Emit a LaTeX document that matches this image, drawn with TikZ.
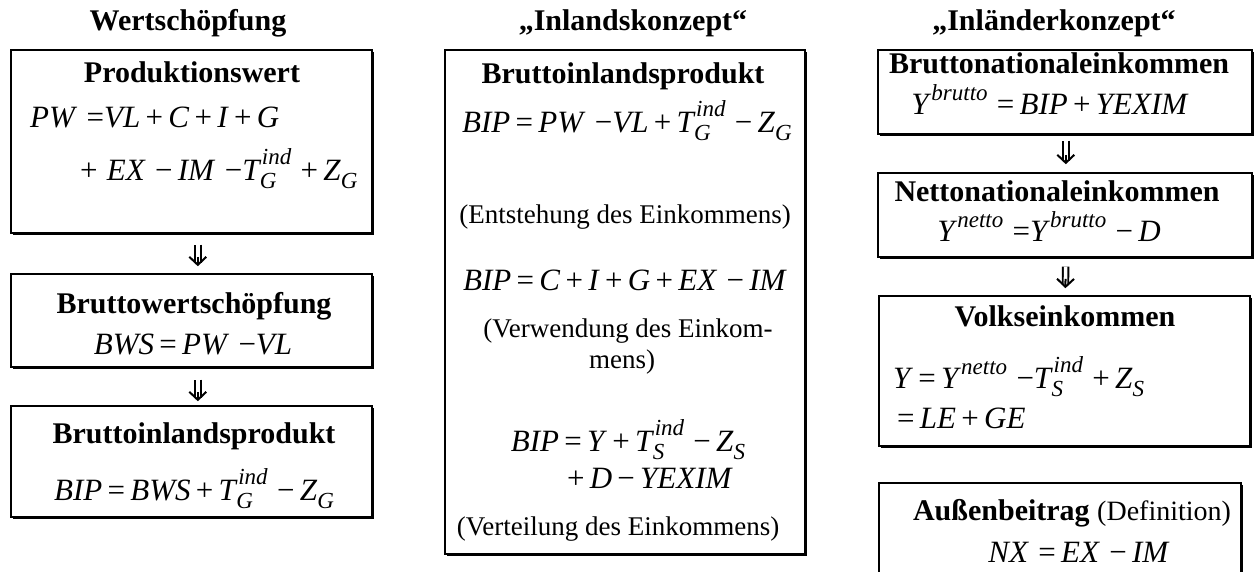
\documentclass[tikz,border=0pt]{standalone}
\usepackage{fontspec}
\setmainfont{Liberation Serif}
\usetikzlibrary{shadows,arrows.meta}
\newcommand\vv[1]{\textit{#1}}
\newcommand\Eq{\hspace{0.17em}=\hspace{0.17em}}
\newcommand\Pl{\hspace{0.17em}+\hspace{0.17em}}
\newcommand\Mi{\hspace{0.17em}−\hspace{0.17em}}
\newcommand\scr{\fontsize{23}{23}\selectfont\itshape}
% stacked sub- and superscript
\newcommand\ssx[3]{\textit{#1}\kern0.02em%
  {\scr\setbox0\hbox{#2}\setbox2\hbox{\kern-2pt #3}%
   \ifdim\wd0>\wd2 \dimen0=\wd0 \else \dimen0=\wd2 \fi
   \hbox to\dimen0{\rlap{\raisebox{16pt}{\box0}}\raisebox{-8pt}{\box2}\hss}}}
\newcommand\sups[2]{\textit{#1}\raisebox{14pt}{\scr #2}}
\newcommand\subs[2]{\textit{#1}\raisebox{-8pt}{\scr #2}}
\begin{document}
\begin{tikzpicture}[x=1pt,y=-1pt,
  box/.style={draw, line width=1.6pt, fill=white, inner sep=0pt, anchor=north west,
    drop shadow={shadow xshift=2pt, shadow yshift=-2pt, fill=black, opacity=1}},
  hd/.style={font=\fontsize{30}{36}\selectfont\bfseries, anchor=base, inner sep=0pt},
  ti/.style={font=\fontsize{30}{36}\selectfont\bfseries, anchor=base, inner sep=0pt},
  tx/.style={font=\fontsize{27}{32}\selectfont, anchor=base, inner sep=0pt},
  fm/.style={font=\fontsize{31}{36}\selectfont, anchor=base, inner sep=0pt},
  fml/.style={fm, anchor=base west},
  shaft/.style={double, double distance=3.6pt, line width=1.9pt},
  head/.style={line width=2pt, -{Straight Barb[length=8pt,width=17pt]}}]
\useasboundingbox (0,0) rectangle (1255,571);

% headers
\node[hd] (h1) at (188,30) {Wertschöpfung};
\node[hd] (h2) at (633,30) {„Inlandskonzept“};
\node[hd] (h3) at (1054,30) {„Inländerkonzept“};

% left column
\node[box, minimum width=361pt, minimum height=183pt] (pw) at (10,49) {};
\node[ti] (pwt) at (192,82) {Produktionswert};
\node[fml] (pw1) at (30,127) {\vv{PW}\hspace{0.3em}=\vv{VL}\Pl\vv{C}\Pl\vv{I}\Pl\vv{G}};
\node[fml] (pw2) at (80,180) {+\hspace{0.3em}\vv{EX}\hspace{0.3em}−\hspace{0.17em}\vv{IM}\hspace{0.3em}−\ssx{T}{ind}{G}\hspace{0.3em}+\hspace{0.17em}\subs{Z}{G}};

\node[box, minimum width=361pt, minimum height=93pt] (bws) at (10,273) {};
\node[ti] (bwst) at (194,313) {Bruttowertschöpfung};
\node[fm] (bwsf) at (193,354) {\vv{BWS}\Eq\vv{PW}\hspace{0.3em}−\vv{VL}};

\node[box, minimum width=361pt, minimum height=111pt] (bipl) at (10,405) {};
\node[ti] (biplt) at (194,443) {Bruttoinlandsprodukt};
\node[fm] (biplf) at (194,500) {\vv{BIP}\Eq\vv{BWS}\Pl\ssx{T}{ind}{G}\hspace{0.3em}−\hspace{0.17em}\subs{Z}{G}};

\draw[shaft, shorten <=11pt, shorten >=10pt] ([xshift=6.5pt]pw.south) -- ([xshift=6.5pt]bws.north);
\draw[head, shorten <=23.2pt, shorten >=6.8pt] ([xshift=6.5pt]pw.south) -- ([xshift=6.5pt]bws.north);
\draw[shaft, shorten <=12pt, shorten >=7pt] ([xshift=6.5pt]bws.south) -- ([xshift=6.5pt]bipl.north);
\draw[head, shorten <=24.2pt, shorten >=3.8pt] ([xshift=6.5pt]bws.south) -- ([xshift=6.5pt]bipl.north);

% middle column
\node[box, minimum width=360pt, minimum height=504pt] (mid) at (444,49) {};
\node[ti] (midt) at (623,83) {Bruttoinlandsprodukt};
\node[fm] (m1) at (627,132) {\vv{BIP}\Eq\vv{PW}\hspace{0.3em}−\vv{VL}\Pl\ssx{T}{ind}{G}\hspace{0.3em}−\hspace{0.17em}\subs{Z}{G}};
\node[tx] (m2) at (625,223) {(Entstehung des Einkommens)};
\node[fm] (m3) at (625,290) {\vv{BIP}\Eq\vv{C}\Pl\vv{I}\Pl\vv{G}\Pl\vv{EX}\hspace{0.3em}−\hspace{0.17em}\vv{IM}};
\node[tx] (m4) at (628,337) {(Verwendung des Einkom-};
\node[tx] (m5) at (622,368) {mens)};
\node[fm] (m6) at (628,451) {\vv{BIP}\Eq\vv{Y}\Pl\ssx{T}{ind}{S}\hspace{0.3em}−\hspace{0.17em}\subs{Z}{S}};
\node[fm] (m7) at (650,488) {+\hspace{0.17em}\vv{D}\Mi\vv{YEXIM}};
\node[tx] (m8) at (618,535) {(Verteilung des Einkommens)};

% right column
\node[box, minimum width=374pt, minimum height=84pt] (ybr) at (877,49) {};
\node[ti] (ybrt) at (1059,73) {Bruttonationaleinkommen};
\node[fm] (ybrf) at (1050,114) {\sups{Y}{brutto}\hspace{0.3em}=\hspace{0.17em}\vv{BIP}\Pl\vv{YEXIM}};

\node[box, minimum width=374pt, minimum height=84pt] (ynt) at (877,172) {};
\node[ti] (yntt) at (1057,201) {Nettonationaleinkommen};
\node[fm] (yntf) at (1049,241) {\sups{Y}{netto}\hspace{0.3em}=\sups{Y}{brutto}\hspace{0.3em}−\hspace{0.17em}\vv{D}};

\node[box, minimum width=371pt, minimum height=150pt] (vy) at (878,295) {};
\node[ti] (vyt) at (1065,326) {Volkseinkommen};
\node[fml] (vy1) at (893,388) {\vv{Y}\Eq\sups{Y}{netto}\hspace{0.3em}−\ssx{T}{ind}{S}\hspace{0.3em}+\hspace{0.17em}\subs{Z}{S}};
\node[fml] (vy2) at (897,428) {=\hspace{0.17em}\vv{LE}\Pl\vv{GE}};

\node[box, minimum width=362pt, minimum height=120pt] (nx) at (878,482) {};
\node[ti] (nxt) at (1072,520) {Außenbeitrag {\mdseries\fontsize{28}{34}\selectfont (Definition)}};
\node[fm] (nxf) at (1079,562) {\vv{NX}\hspace{0.3em}=\hspace{0.17em}\vv{EX}\hspace{0.3em}−\hspace{0.17em}\vv{IM}};

\draw[shaft, shorten <=6pt, shorten >=11pt] ([xshift=1pt]ybr.south) -- ([xshift=1pt]ynt.north);
\draw[head, shorten <=20.2pt, shorten >=7.8pt] ([xshift=1pt]ybr.south) -- ([xshift=1pt]ynt.north);
\draw[shaft, shorten <=9pt, shorten >=10pt] ([xshift=1pt]ynt.south) -- ([xshift=1pt]vy.north);
\draw[head, shorten <=21.2pt, shorten >=6.8pt] ([xshift=1pt]ynt.south) -- ([xshift=1pt]vy.north);
\end{tikzpicture}
\end{document}
